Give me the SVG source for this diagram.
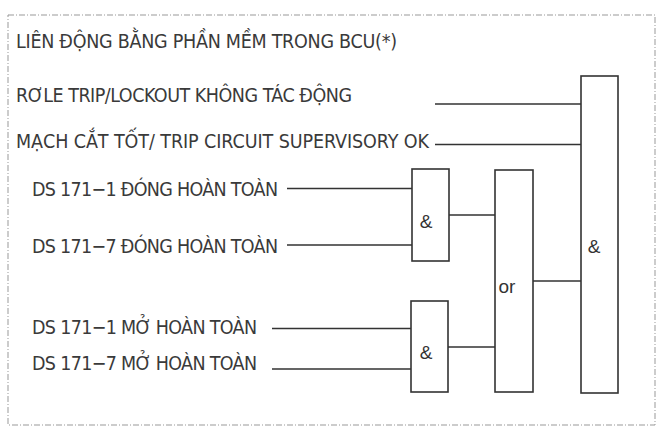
<svg xmlns="http://www.w3.org/2000/svg" width="668" height="438" viewBox="0 0 668 438">
<style>
.t{font-family:"Liberation Sans Narrow","DejaVu Sans Condensed",Arial,sans-serif;font-size:19.5px;fill:#3a3a3a}
.g{font-family:"Liberation Sans",Arial,sans-serif;font-size:19px;fill:#333;text-anchor:middle}
.gate{fill:none;stroke:#333;stroke-width:1.6}
.w{stroke:#333;stroke-width:1.6;fill:none}
</style>
<rect x="0" y="0" width="668" height="438" fill="#fff"/>
<rect x="8" y="15" width="647" height="410" fill="none" stroke="#999" stroke-width="1" stroke-dasharray="6 2 1 2"/>
<text class="t" x="16" y="47.5" textLength="381" lengthAdjust="spacing">LIÊN ĐỘNG BẰNG PHẦN MỀM TRONG BCU(*)</text>
<g id="in1"><text class="t" x="16" y="102" textLength="336" lengthAdjust="spacing">RƠLE TRIP/LOCKOUT KHÔNG TÁC ĐỘNG</text></g>
<g id="in2"><text class="t" x="16" y="148" textLength="413" lengthAdjust="spacing">MẠCH CẮT TỐT/ TRIP CIRCUIT SUPERVISORY OK</text></g>
<g id="in3"><text class="t" x="32" y="196" textLength="246" lengthAdjust="spacing">DS 171−1 ĐÓNG HOÀN TOÀN</text></g>
<g id="in4"><text class="t" x="32" y="252.5" textLength="246" lengthAdjust="spacing">DS 171−7 ĐÓNG HOÀN TOÀN</text></g>
<g id="in5"><text class="t" x="32" y="333.5" textLength="225" lengthAdjust="spacing">DS 171−1 MỞ HOÀN TOÀN</text></g>
<g id="in6"><text class="t" x="32" y="370" textLength="225" lengthAdjust="spacing">DS 171−7 MỞ HOÀN TOÀN</text></g>
<g id="and1"><rect class="gate" x="412" y="169" width="37" height="92"/><text class="g" x="426" y="228">&amp;</text></g>
<g id="and2"><rect class="gate" x="411" y="301" width="37" height="91"/><text class="g" x="426" y="359">&amp;</text></g>
<g id="or1"><rect class="gate" x="495" y="170" width="38" height="222"/><text class="g" x="507" y="293">or</text></g>
<g id="and3"><rect class="gate" x="581" y="76" width="37" height="317"/><text class="g" x="594" y="253">&amp;</text></g>
<g id="connectors">
<path class="w" d="M435 104H581M435 144.5H581M287 188.5H412M287 245H412M272 328.5H411M272 369H411M449 215H495M448 347H495M533 281H581"/>
</g>
</svg>
